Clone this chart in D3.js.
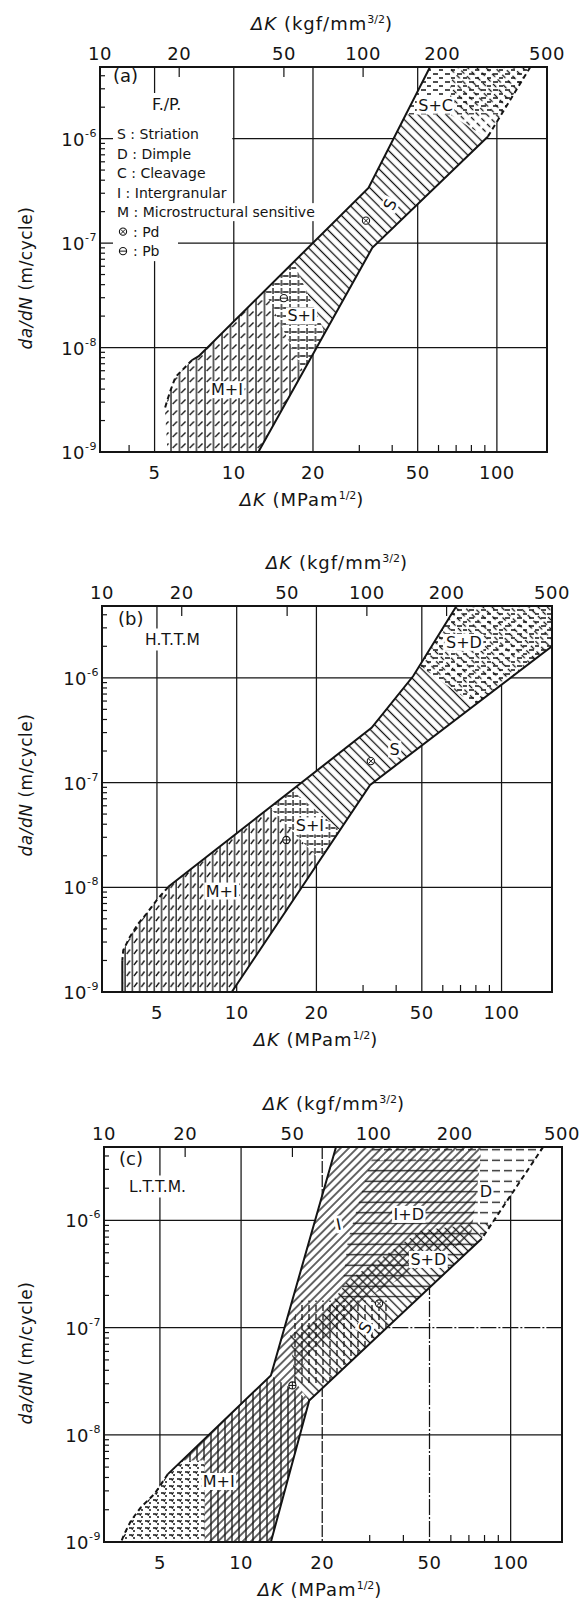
<!DOCTYPE html>
<html>
<head>
<meta charset="utf-8">
<script src="https://cdn.jsdelivr.net/npm/d3@7/dist/d3.min.js"></script>
<style>
  html, body { margin: 0; padding: 0; background: #fff; }
  text { font-family: "DejaVu Sans", "Liberation Sans", sans-serif; fill: #141414; }
</style>
</head>
<body>
<svg id="fig" width="586" height="1600" xmlns="http://www.w3.org/2000/svg"></svg>
<script>
// ---------------------------------------------------------------------------
// Fatigue crack growth rate da/dN versus stress intensity range ΔK,
// with the fracture-mode bands for three microstructures.
// Bottom axis: ΔK in MPa·m^1/2, top axis: the same ΔK in kgf/mm^3/2.
// ---------------------------------------------------------------------------
const MPA_PER_KGF = 0.3101;                       // 1 kgf/mm^3/2 = 0.3101 MPa·m^1/2
const kgfTicks = [10, 20, 50, 100, 200, 500];
const kgfInnerTicks = [20, 50, 100, 200];
const mpaTicks = [5, 10, 20, 50, 100];
const mpaMinorTicks = [4, 6, 7, 8, 9, 30, 40, 60, 70, 80, 90];
const rateTicks = [1e-9, 1e-8, 1e-7, 1e-6];
const rateGrid = [1e-8, 1e-7, 1e-6];
const kRange = [10 * MPA_PER_KGF, 500 * MPA_PER_KGF];
const rateRange = [1e-9, 4.85e-6];

const legendLines = ["S : Striation", "D : Dimple", "C : Cleavage",
                     "I : Intergranular", "M : Microstructural sensitive"];

// ---- (a) F./P. : band edges as [ΔK (MPa·m^1/2), da/dN (m/cycle)] ----
const fpUpper       = [[55.7, 4.85e-6], [32.5, 3.38e-7], [7.36, 8.28e-9], [6.95, 7.6e-9]];
const fpUpperDashed = [[6.95, 7.6e-9], [6.56, 6.55e-9], [6.01, 5.25e-9], [5.75, 3.9e-9], [5.59, 3.13e-9], [5.47, 2.61e-9]];
const fpFoot        = [[5.47, 2.61e-9], [5.6, 1e-9]];
const fpLowerDashed = [[134, 4.85e-6], [92.5, 1.05e-6]];
const fpLower       = [[92.5, 1.05e-6], [33.6, 9.0e-8], [12.4, 1e-9]];
const fpZones = [
  { fill: ["hd"],          poly: [[36, 6e-6], [200, 6e-6], [200, 1.7e-6], [36, 1.7e-6]] },
  { fill: ["dbs"],         poly: [[66.4, 6e-6], [200, 6e-6], [200, 1e-6], [92.5, 1e-6], [66.4, 1.7e-6]] },
  { fill: ["bs"],          poly: [[10, 1.7e-6], [66.4, 1.7e-6], [92.5, 1e-6], [200, 1e-6], [200, 3.16e-9], [28.8, 3.16e-9], [12.8, 3.16e-7], [10, 3.16e-7]] },
  { fill: ["grid"],        poly: [[12.8, 3.16e-7], [28.8, 3.16e-9], [20.7, 3.16e-9], [8.6, 3.16e-7]] },
  { fill: ["vl", "slash"], poly: [[8.6, 3.16e-7], [20.7, 3.16e-9], [20.7, 5e-10], [2, 5e-10], [2, 3.16e-7]] }
];
const fpLabels = [
  { t: "S+C", k: 58.5, r: 2.09e-6 },
  { t: "S",   k: 39.3, r: 2.34e-7, rot: -65 },
  { t: "S+I", k: 18.1, r: 2.01e-8 },
  { t: "M+I", k: 9.42, r: 3.95e-9 }
];
const fpPd = [31.8, 1.64e-7];
const fpPb = [15.5, 2.97e-8];

// ---- (b) H.T.T.M ----
const httmUpper       = [[67.6, 4.85e-6], [46.4, 1.04e-6], [32.3, 3.33e-7], [5.52, 1.01e-8]];
const httmUpperDashed = [[5.52, 1.01e-8], [4.99, 7.55e-9], [4.57, 5.6e-9], [4.25, 4.5e-9], [3.95, 3.36e-9], [3.73, 2.5e-9], [3.70, 2.0e-9]];
const httmFoot        = [[3.70, 2.0e-9], [3.70, 1e-9]];
const httmRightEdge   = [[155, 4.85e-6], [155, 2.0e-6]];
const httmLower       = [[155, 2.0e-6], [31.9, 9.5e-8], [9.58, 1e-9]];
const httmZones = [
  { fill: ["dbs", "hd"],   poly: [[31.6, 6e-6], [200, 6e-6], [200, 1.06e-7], [31.6, 2.84e-6]] },
  { fill: ["bs"],          poly: [[10, 2.2e-5], [31.6, 2.84e-6], [200, 1.06e-7], [200, 4.3e-10], [10, 2.3e-7]] },
  { fill: ["grid"],        poly: [[7.94, 2.24e-7], [7.94, 3.76e-7], [39.8, 1.27e-8], [39.8, 3.24e-9]] },
  { fill: ["vl", "slash"], poly: [[7.94, 2.24e-7], [39.8, 3.24e-9], [39.8, 1e-10], [1, 1e-10], [1, 2.24e-7]] }
];
const httmLabels = [
  { t: "S+D", k: 72.1, r: 2.18e-6 },
  { t: "S",   k: 39.5, r: 2.09e-7 },
  { t: "S+I", k: 18.9, r: 3.85e-8 },
  { t: "M+I", k: 8.78, r: 9.2e-9 }
];
const httmPd = [32.1, 1.6e-7];
const httmPb = [15.4, 2.83e-8];

// ---- (c) L.T.T.M. ----
const lttmUpper       = [[22.5, 4.85e-6], [12.9, 3.58e-8], [5.35, 4.3e-9]];
const lttmUpperDashed = [[5.35, 4.3e-9], [4.78, 2.82e-9], [4.26, 2.12e-9], [3.91, 1.59e-9], [3.69, 1.19e-9], [3.59, 1e-9]];
const lttmLowerDashed = [[132, 4.85e-6], [78.2, 6.8e-7]];
const lttmLower       = [[78.2, 6.8e-7], [17.9, 2.09e-8], [12.9, 1e-9]];
const lttmZones = [
  { fill: ["hdash"], poly: [[30.3, 6e-6], [214, 6e-6], [214, 5e-7], [75.5, 5e-7], [75.5, 3.63e-6], [30.3, 3.63e-6]] },
  { fill: ["hl"],    poly: [[30.3, 3.63e-6], [75.5, 3.63e-6], [75.5, 1.91e-7], [23.5, 1.91e-7], [24.9, 6.5e-7]] },
  { fill: ["fs"],    poly: [[2, 6e-6], [77.4, 6e-6], [77.4, 3.63e-6], [71.2, 6.94e-7], [31.3, 2.08e-7], [18.7, 6.53e-8], [15.8, 3.21e-8], [18.3, 1.88e-8], [21.3, 9.3e-10], [2, 9.3e-10]] },
  { fill: ["bs"],    poly: [[46.5, 8.07e-7], [77.4, 9.4e-7], [214, 9.4e-7], [214, 1.88e-8], [18.3, 1.88e-8], [15.8, 3.21e-8], [15.2, 8.45e-8], [19.8, 1.25e-7], [24.9, 2.75e-7]] },
  { fill: ["vd"],    poly: [[16.5, 1.79e-7], [35.6, 1.79e-7], [35.6, 9.4e-8], [24.3, 2.89e-8], [15.2, 2.89e-8], [15.2, 9.4e-8]] },
  { fill: ["vl"],    poly: [[2, 3.58e-8], [12.9, 3.58e-8], [18, 2.09e-8], [30, 2.09e-8], [30, 5e-10], [2, 5e-10]] },
  { fill: ["white", "marks"], poly: [[2.99, 5.77e-9], [7.33, 5.77e-9], [7.33, 9.3e-10], [2.99, 9.3e-10]] }
];
const lttmLabels = [
  { t: "I",   k: 23.0, r: 9.2e-7, rot: -12 },
  { t: "I+D", k: 41.9, r: 1.14e-6 },
  { t: "D",   k: 80.9, r: 1.87e-6 },
  { t: "S+D", k: 49.5, r: 4.33e-7 },
  { t: "S",   k: 28.9, r: 1.0e-7, rot: -60 },
  { t: "M+I", k: 8.26, r: 3.67e-9 }
];
const lttmPd = [32.5, 1.68e-7];
const lttmPb = [15.5, 2.89e-8];

// ---------------------------------------------------------------------------
const panels = [
  { id: "a", tag: "(a)", name: "F./P.", legend: true,
    frame: { x0: 100, x1: 547, y0: 67, y1: 452 },
    left:  [{ pts: fpUpper, s: "solid" }, { pts: fpUpperDashed, s: "dashed" }, { pts: fpFoot, s: "none" }],
    right: [{ pts: fpLowerDashed, s: "dashed" }, { pts: fpLower, s: "solid" }],
    zones: fpZones, labels: fpLabels, pd: fpPd, pb: fpPb, pbCross: false,
    hatch: { diag: 6.6, fdiag: 6.4, vert: 8.5, horiz: 10 },
    tagPos: [13, 14.5], namePos: [52, 43], nameSize: 16,
    topTitleX: 322, botTitleX: 302, yTitleY: 278, gridDash: {} },
  { id: "b", tag: "(b)", name: "H.T.T.M", legend: false,
    frame: { x0: 102, x1: 552, y0: 606, y1: 992 },
    left:  [{ pts: httmUpper, s: "solid" }, { pts: httmUpperDashed, s: "dashed" }, { pts: httmFoot, s: "solid" }],
    right: [{ pts: httmRightEdge, s: "none" }, { pts: httmLower, s: "solid" }],
    zones: httmZones, labels: httmLabels, pd: httmPd, pb: httmPb, pbCross: true,
    hatch: { diag: 6.6, fdiag: 6.4, vert: 7.3, horiz: 10 },
    tagPos: [16, 18.5], namePos: [43, 38.5], nameSize: 15.5,
    topTitleX: 337, botTitleX: 316, yTitleY: 785, gridDash: {} },
  { id: "c", tag: "(c)", name: "L.T.T.M.", legend: false,
    frame: { x0: 104, x1: 562, y0: 1147, y1: 1542 },
    left:  [{ pts: lttmUpper, s: "solid" }, { pts: lttmUpperDashed, s: "dashed" }],
    right: [{ pts: lttmLowerDashed, s: "dashed" }, { pts: lttmLower, s: "solid" }],
    zones: lttmZones, labels: lttmLabels, pd: lttmPd, pb: lttmPb, pbCross: true,
    hatch: { diag: 6.4, fdiag: 5.8, vert: 7, horiz: 10.5 },
    tagPos: [15, 18], namePos: [25, 44.5], nameSize: 15.5,
    topTitleX: 334, botTitleX: 320, yTitleY: 1353,
    // dashed grid runs only on the right of the band (split at the given ΔK)
    gridDash: { k20: "12 2", k50: "16 2 2 2", r1e7: "16 2 2 2" }, rowDashFrom: 25 }
];

const svg = d3.select("#fig");
const defs = svg.append("defs");
const INK = "#141414";

function pattern(id, w, h, d, rot, sw) {
  const p = defs.append("pattern").attr("id", id)
    .attr("patternUnits", "userSpaceOnUse")
    .attr("width", w).attr("height", h);
  if (rot) p.attr("patternTransform", `rotate(${rot})`);
  p.append("path").attr("d", d).attr("fill", "none")
    .attr("stroke", INK).attr("stroke-width", sw || 1.3);
}

function hatchSet(id, s) {
  const ds = s.diag, fd = s.fdiag, vs = s.vert, hs = s.horiz;
  pattern(`bs-${id}`, ds, 10, `M${ds / 2},0V10`, -45);
  pattern(`fs-${id}`, fd, 10, `M${fd / 2},0V10`, 45);
  pattern(`dbs-${id}`, 6.5, 8, "M3.25,0V4.5", -45);
  pattern(`hd-${id}`, 12, 8, "M1,2H6M7,6H11");
  pattern(`hl-${id}`, 10, hs, `M0,${hs / 2}H10`);
  pattern(`hdash-${id}`, 12, hs, `M0,${hs / 2}H8`);
  pattern(`vl-${id}`, vs, 10, "M1,0V10");
  pattern(`slash-${id}`, vs, 11, `M2.6,8L${(vs - 1.4).toFixed(2)},3.5`);
  pattern(`grid-${id}`, vs, 8, `M1,0V6M2.2,4H${(vs - 0.4).toFixed(2)}`);
  pattern(`vd-${id}`, vs, 9, "M1,0V6");
  pattern(`marks-${id}`, 8, 7, "M1,2h3M5,5h2M5.5,1.2l-1.6,2.4");
}

function marker(g, cx, cy, kind, cross) {
  const m = g.append("g");
  m.append("circle").attr("cx", cx).attr("cy", cy).attr("r", 3.6)
    .attr("fill", "#fff").attr("stroke", INK).attr("stroke-width", 1.1);
  if (kind === "Pd") {
    m.append("path").attr("d", `M${cx - 2.2},${cy - 2.2}L${cx + 2.2},${cy + 2.2}M${cx - 2.2},${cy + 2.2}L${cx + 2.2},${cy - 2.2}`)
      .attr("stroke", INK).attr("stroke-width", 1);
  } else {
    let d = `M${cx - 3.6},${cy}H${cx + 3.6}`;
    if (cross) d += `M${cx},${cy - 3.6}V${cy + 3.6}`;
    m.append("path").attr("d", d).attr("stroke", INK).attr("stroke-width", 1);
  }
}

function whiteBehind(g, textSel, pad) {
  const b = textSel.node().getBBox();
  g.insert("rect", () => textSel.node())
    .attr("x", b.x - pad[0]).attr("y", b.y - pad[1])
    .attr("width", b.width + 2 * pad[0]).attr("height", b.height + 2 * pad[1])
    .attr("fill", "#fff");
}

function gridKey(r) {
  return "r" + r.toExponential().replace("-", "").replace("+", "");
}

function drawPanel(P) {
  const f = P.frame;
  hatchSet(P.id, P.hatch);
  const x = d3.scaleLog().domain(kRange).range([f.x0, f.x1]);
  const y = d3.scaleLog().domain(rateRange).range([f.y1, f.y0]);
  const line = d3.line().x(d => x(d[0])).y(d => y(d[1]));
  const g = svg.append("g").attr("class", `panel-${P.id}`);

  // frame clip
  defs.append("clipPath").attr("id", `frame-${P.id}`)
    .append("rect").attr("x", f.x0).attr("y", f.y0)
    .attr("width", f.x1 - f.x0).attr("height", f.y1 - f.y0);

  // grid
  const grid = g.append("g").attr("stroke", INK).attr("stroke-width", 1.25)
    .attr("clip-path", `url(#frame-${P.id})`);
  mpaTicks.forEach(k => {
    grid.append("line").attr("x1", x(k)).attr("x2", x(k)).attr("y1", f.y0).attr("y2", f.y1)
      .attr("stroke-dasharray", P.gridDash["k" + k] || null);
  });
  rateGrid.forEach(r => {
    const dash = P.gridDash[gridKey(r)];
    if (dash && P.rowDashFrom) {
      const xs = x(P.rowDashFrom);
      grid.append("line").attr("x1", f.x0).attr("x2", xs).attr("y1", y(r)).attr("y2", y(r));
      grid.append("line").attr("x1", xs).attr("x2", f.x1).attr("y1", y(r)).attr("y2", y(r))
        .attr("stroke-dasharray", dash);
    } else {
      grid.append("line").attr("x1", f.x0).attr("x2", f.x1).attr("y1", y(r)).attr("y2", y(r))
        .attr("stroke-dasharray", dash || null);
    }
  });

  // ticks
  const ticks = g.append("g").attr("stroke", INK).attr("stroke-width", 1.2);
  for (let e = -9; e <= -6; e++) {
    for (let m = 2; m <= 9; m++) {
      const v = m * Math.pow(10, e);
      if (v > rateRange[1]) continue;
      ticks.append("line").attr("x1", f.x0).attr("x2", f.x0 + 5).attr("y1", y(v)).attr("y2", y(v));
    }
  }
  mpaMinorTicks.forEach(k => {
    ticks.append("line").attr("x1", x(k)).attr("x2", x(k)).attr("y1", f.y1).attr("y2", f.y1 - 7);
  });
  kgfInnerTicks.forEach(k => {
    const xx = x(k * MPA_PER_KGF);
    ticks.append("line").attr("x1", xx).attr("x2", xx).attr("y1", f.y0).attr("y2", f.y0 + 10);
  });

  // panel tag, material name and legend
  const lg = g.append("g");
  const tag = lg.append("text").attr("x", f.x0 + P.tagPos[0]).attr("y", f.y0 + P.tagPos[1])
    .attr("font-size", 18).text(P.tag);
  whiteBehind(lg, tag, [1, 0]);
  const nm = lg.append("text").attr("x", f.x0 + P.namePos[0]).attr("y", f.y0 + P.namePos[1])
    .attr("font-size", P.nameSize).text(P.name);
  whiteBehind(lg, nm, [2, 2]);

  if (P.legend) {
    const block = lg.append("rect").attr("fill", "#fff");
    const lx = f.x0 + 17;
    const base = y(1e-6) + 0.5;
    const step = 19.5;
    const items = [];
    legendLines.forEach((s, i) => {
      items.push(lg.append("text").attr("x", lx).attr("y", base + i * step).attr("font-size", 14).text(s));
    });
    ["Pd", "Pb"].forEach((s, i) => {
      const yy = base + (legendLines.length + i) * step;
      marker(lg, lx + 6, yy - 5, s, false);
      items.push(lg.append("text").attr("x", lx + 16).attr("y", yy).attr("font-size", 14).text(": " + s));
    });
    const bb = items.map(t => t.node().getBBox());
    const mLine = bb[4];
    const nmTop = nm.node().getBBox().y - 2;
    block.attr("x", f.x0 + 13).attr("y", nmTop)
      .attr("width", x(10) - 1.5 - (f.x0 + 13)).attr("height", mLine.y - nmTop);
    lg.insert("rect", () => items[0].node()).attr("fill", "#fff")
      .attr("x", f.x0 + 13).attr("y", mLine.y - 1).attr("width", mLine.x + mLine.width + 3 - (f.x0 + 13))
      .attr("height", mLine.height + 2);
    const last = bb[bb.length - 1];
    lg.insert("rect", () => items[0].node()).attr("fill", "#fff")
      .attr("x", f.x0 + 13).attr("y", mLine.y + mLine.height)
      .attr("width", 65).attr("height", last.y + last.height + 2 - (mLine.y + mLine.height));
    block.lower();
  }

  // fracture-mode band
  const leftPts = [].concat(...P.left.map(p => p.pts));
  const rightPts = [].concat(...P.right.map(p => p.pts));
  const band = leftPts.concat(rightPts.slice().reverse());
  defs.append("clipPath").attr("id", `band-${P.id}`)
    .append("path").attr("d", line(band) + "Z");
  const bg = g.append("g").attr("clip-path", `url(#frame-${P.id})`);
  const bandG = bg.append("g").attr("clip-path", `url(#band-${P.id})`);
  bandG.append("path").attr("d", line(band) + "Z").attr("fill", "#fff");
  P.zones.forEach(z => {
    z.fill.forEach(fl => {
      bandG.append("path").attr("d", line(z.poly) + "Z")
        .attr("fill", fl === "white" ? "#fff" : `url(#${fl}-${P.id})`);
    });
  });

  // band edges
  P.left.concat(P.right).forEach(part => {
    if (part.s === "none") return;
    bg.append("path").attr("d", line(part.pts)).attr("fill", "none")
      .attr("stroke", INK).attr("stroke-width", 2)
      .attr("stroke-dasharray", part.s === "dashed" ? "5 3.5" : null);
  });

  // mode labels and test points
  const lab = g.append("g");
  P.labels.forEach(L => {
    const cx = x(L.k), cy = y(L.r);
    const t = lab.append("text").attr("x", cx).attr("y", cy)
      .attr("text-anchor", "middle").attr("dominant-baseline", "central")
      .attr("font-size", 16).text(L.t);
    if (L.rot) t.attr("transform", `rotate(${L.rot},${cx},${cy})`);
    const b = t.node().getBBox();
    const r = lab.insert("rect", () => t.node()).attr("fill", "#fff")
      .attr("x", b.x - 1.5).attr("y", b.y + 1).attr("width", b.width + 3).attr("height", b.height - 2);
    if (L.rot) r.attr("transform", `rotate(${L.rot},${cx},${cy})`);
  });
  marker(lab, x(P.pd[0]), y(P.pd[1]), "Pd", false);
  marker(lab, x(P.pb[0]), y(P.pb[1]), "Pb", P.pbCross);

  // frame
  g.append("rect").attr("x", f.x0).attr("y", f.y0)
    .attr("width", f.x1 - f.x0).attr("height", f.y1 - f.y0)
    .attr("fill", "none").attr("stroke", INK).attr("stroke-width", 2);

  // axis labels
  const ax = g.append("g");
  mpaTicks.forEach(k => {
    ax.append("text").attr("x", x(k)).attr("y", f.y1 + 27).attr("text-anchor", "middle")
      .attr("font-size", 18).attr("letter-spacing", 0.5).text(k);
  });
  kgfTicks.forEach(k => {
    ax.append("text").attr("x", x(k * MPA_PER_KGF)).attr("y", f.y0 - 7).attr("text-anchor", "middle")
      .attr("font-size", 18).attr("letter-spacing", 0.5).text(k);
  });
  rateTicks.forEach(r => {
    const t = ax.append("text").attr("x", f.x0 - 3).attr("y", y(r) + 7)
      .attr("text-anchor", "end").attr("font-size", 18).attr("letter-spacing", 0.5);
    t.append("tspan").text("10");
    t.append("tspan").attr("dy", -9).attr("font-size", 11).text(String(Math.round(Math.log10(r))));
  });

  const tt = ax.append("text").attr("x", P.topTitleX).attr("y", f.y0 - 37)
    .attr("text-anchor", "middle").attr("font-size", 18).attr("letter-spacing", 1);
  tt.append("tspan").attr("font-style", "italic").text("ΔK");
  tt.append("tspan").text(" (kgf/mm");
  tt.append("tspan").attr("dy", -7).attr("font-size", 11).attr("letter-spacing", 0).text("3/2");
  tt.append("tspan").attr("dy", 7).text(")");

  const bt = ax.append("text").attr("x", P.botTitleX).attr("y", f.y1 + 54)
    .attr("text-anchor", "middle").attr("font-size", 18).attr("letter-spacing", 1);
  bt.append("tspan").attr("font-style", "italic").text("ΔK");
  bt.append("tspan").text(" (MPam");
  bt.append("tspan").attr("dy", -7).attr("font-size", 11).attr("letter-spacing", 0).text("1/2");
  bt.append("tspan").attr("dy", 7).text(")");

  const yt = ax.append("text").attr("transform", `translate(32,${P.yTitleY}) rotate(-90)`)
    .attr("text-anchor", "middle").attr("font-size", 17).attr("letter-spacing", 0.5);
  yt.append("tspan").attr("font-style", "italic").text("da/dN");
  yt.append("tspan").text(" (m/cycle)");
}

panels.forEach(drawPanel);
</script>
</body>
</html>
